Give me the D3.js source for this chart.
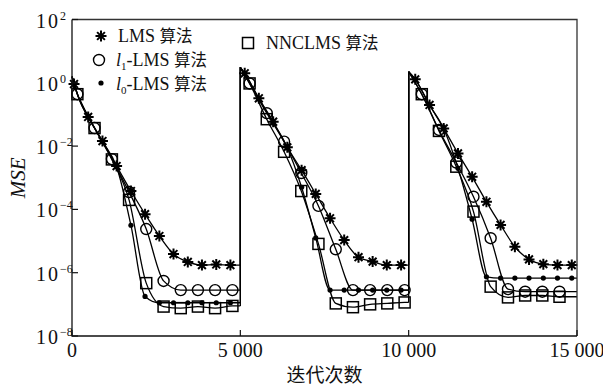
<!DOCTYPE html>
<html>
<head>
<meta charset="utf-8">
<script src="https://cdn.jsdelivr.net/npm/d3@7"></script>
<style>
  body { margin: 0; background: #fff; }
  text { font-family: 'Liberation Serif', 'DejaVu Serif', serif; fill: #111; }
  .cjk { font-family: 'Noto Sans CJK SC', sans-serif; }
</style>
</head>
<body>
<div id="chart"></div>
<script>
// all values are [iteration, log10(MSE)]

// LMS (stars)
const lmsMarks = [
  [60, -0.04], [480, -1.08], [905, -1.84], [1325, -2.63], [1750, -3.42], [2170, -4.15],
  [2595, -4.84], [3015, -5.41], [3440, -5.66], [3860, -5.76], [4285, -5.74], [4705, -5.76],
  [5130, 0.30], [5550, -0.49], [5975, -1.23], [6395, -2.04], [6820, -2.76], [7240, -3.51],
  [7665, -4.28], [8085, -4.97], [8510, -5.51], [8930, -5.65], [9350, -5.76], [9775, -5.76],
  [10195, 0.11], [10620, -0.70], [11040, -1.44], [11465, -2.23], [11885, -2.97], [12310, -3.76],
  [12730, -4.49], [13155, -5.18], [13575, -5.58], [14000, -5.73], [14420, -5.76], [14845, -5.76]
];
const lmsKnots = [[0, 0.2], [5000, -5.76], [5000, 0.49], [10000, -5.76], [10000, 0.35], [15000, -5.77]];

// l1-LMS (circles)
const l1Marks = [
  [160, -0.36], [670, -1.43], [1185, -2.41], [1695, -3.45], [2205, -4.62],
  [2720, -6.26], [3230, -6.55], [3740, -6.55], [4250, -6.55], [4765, -6.55],
  [5275, -0.02], [5785, -0.96], [6300, -1.86], [6810, -2.85], [7320, -3.89],
  [7835, -5.26], [8345, -6.55], [8855, -6.55], [9365, -6.55], [9880, -6.55],
  [10390, -0.36], [10900, -1.49], [11415, -2.52], [11925, -3.60], [12435, -4.91],
  [12950, -6.52], [13460, -6.60], [13970, -6.60], [14480, -6.60]
];
const l1Knots = [[0, 0.2], [5000, -6.55], [5000, 0.49], [10000, -6.55], [10000, 0.35], [15000, -6.60]];

// l0-LMS (dots)
const l0Marks = [
  [60, -0.04], [480, -1.05], [905, -1.85], [1325, -2.65], [1750, -4.50], [2170, -6.75],
  [2595, -6.95], [3015, -6.95], [3440, -6.95], [3860, -6.95], [4285, -6.95], [4705, -6.95],
  [5130, 0.30], [5550, -0.50], [5975, -1.25], [6395, -2.05], [6820, -3.30], [7240, -4.90],
  [7665, -6.55], [8085, -6.55], [8510, -6.55], [8930, -6.55], [9350, -6.55], [9775, -6.55],
  [10195, 0.11], [10620, -0.70], [11040, -1.45], [11465, -2.70], [11885, -4.31], [12310, -6.13],
  [12730, -6.17], [13155, -6.17], [13575, -6.17], [14000, -6.17], [14420, -6.17], [14845, -6.17]
];
const l0Knots = [[0, 0.2], [5000, -6.95], [5000, 0.49], [10000, -6.55], [10000, 0.35], [15000, -6.17]];

// NNCLMS (squares)
const nnMarks = [
  [160, -0.36], [670, -1.43], [1185, -2.42], [1695, -3.70], [2205, -6.33],
  [2720, -7.07], [3230, -7.12], [3740, -7.07], [4250, -7.12], [4765, -7.05],
  [5275, -0.02], [5785, -1.15], [6300, -2.18], [6810, -3.42], [7320, -5.09],
  [7835, -6.97], [8345, -7.09], [8855, -7.00], [9365, -6.97], [9880, -6.94],
  [10390, -0.36], [10900, -1.52], [11415, -2.65], [11925, -4.07], [12435, -6.44],
  [12950, -6.78], [13460, -6.72], [13970, -6.72], [14480, -6.76]
];
const nnKnots = [[0, 0.2], [5000, -7.05], [5000, 0.49], [10000, -6.94], [10000, 0.35], [15000, -6.76]];

const xTicks = [0, 5000, 10000, 15000];
const xTickLabels = ['0', '5 000', '10 000', '15 000'];
const yTickExps = [-8, -6, -4, -2, 0, 2];

const width = 603, height = 387;
const margin = { top: 19.5, right: 26, bottom: 51, left: 72 };

const svg = d3.select('#chart').append('svg')
  .attr('width', width)
  .attr('height', height);

const x = d3.scaleLinear().domain([0, 15000]).range([margin.left, width - margin.right]);
const y = d3.scaleLog().domain([1e-8, 1e2]).range([height - margin.bottom, margin.top]);

const px = d => x(d[0]);
const py = d => y(Math.pow(10, d[1]));

const line = d3.line().x(px).y(py).curve(d3.curveMonotoneX);

// split at the restarts (two points with the same iteration)
function drawSeries(marks, knots) {
  const pts = knots.concat(marks).sort((a, b) => a[0] - b[0]);
  const parts = [[pts[0]]];
  for (let i = 1; i < pts.length; i++) {
    if (pts[i][0] === pts[i - 1][0]) {
      svg.append('line')
        .attr('x1', px(pts[i - 1])).attr('y1', py(pts[i - 1]))
        .attr('x2', px(pts[i])).attr('y2', py(pts[i]))
        .attr('stroke', '#000').attr('stroke-width', 1.3);
      parts.push([]);
    }
    parts[parts.length - 1].push(pts[i]);
  }
  parts.forEach(p => {
    svg.append('path')
      .attr('d', line(p))
      .attr('fill', 'none')
      .attr('stroke', '#000')
      .attr('stroke-width', 1.3);
  });
}

drawSeries(lmsMarks, lmsKnots);
drawSeries(l1Marks, l1Knots);
drawSeries(l0Marks, l0Knots);
drawSeries(nnMarks, nnKnots);

// marker shapes
const starPath = 'M-5.5,0L5.5,0M0,-5.5L0,5.5M-3.9,-3.9L3.9,3.9M-3.9,3.9L3.9,-3.9';

function stars(g, data) {
  g.selectAll(null).data(data).join('path')
    .attr('transform', d => 'translate(' + px(d) + ',' + py(d) + ')')
    .attr('d', starPath)
    .attr('stroke', '#000')
    .attr('stroke-width', 2);
}
function circles(g, data) {
  g.selectAll(null).data(data).join('circle')
    .attr('cx', px).attr('cy', py).attr('r', 5.5)
    .attr('fill', 'none').attr('stroke', '#000').attr('stroke-width', 1.4);
}
function dots(g, data) {
  g.selectAll(null).data(data).join('circle')
    .attr('cx', px).attr('cy', py).attr('r', 2.6)
    .attr('fill', '#000');
}
function squares(g, data) {
  g.selectAll(null).data(data).join('rect')
    .attr('x', d => px(d) - 5.5).attr('y', d => py(d) - 5.5)
    .attr('width', 11).attr('height', 11)
    .attr('fill', 'none').attr('stroke', '#000').attr('stroke-width', 1.5);
}

const marks = svg.append('g');
circles(marks.append('g'), l1Marks);
squares(marks.append('g'), nnMarks);
dots(marks.append('g'), l0Marks);
stars(marks.append('g'), lmsMarks);

// frame
const x0 = x.range()[0], x1 = x.range()[1];
const yb = y.range()[0], yt = y.range()[1];
svg.append('path')
  .attr('d', 'M' + x0 + ',' + yt + 'H' + x1 + 'V' + yb)
  .attr('fill', 'none').attr('stroke', '#333').attr('stroke-width', 1.3);
svg.append('path')
  .attr('d', 'M' + x0 + ',' + yt + 'V' + yb + 'H' + x1)
  .attr('fill', 'none').attr('stroke', '#111').attr('stroke-width', 1.3);

// x ticks
svg.selectAll('line.xt').data(xTicks).join('line')
  .attr('class', 'xt')
  .attr('x1', d => x(d)).attr('x2', d => x(d))
  .attr('y1', yb).attr('y2', yb - 6)
  .attr('stroke', '#111').attr('stroke-width', 1.2);
svg.selectAll('text.xl').data(xTicks).join('text')
  .attr('class', 'xl')
  .attr('x', d => x(d)).attr('y', yb + 21)
  .attr('text-anchor', 'middle')
  .style('font-size', '20px')
  .text((d, i) => xTickLabels[i]);

// y ticks
svg.selectAll('line.yt').data(yTickExps).join('line')
  .attr('class', 'yt')
  .attr('x1', x0).attr('x2', x0 + 6)
  .attr('y1', d => y(Math.pow(10, d))).attr('y2', d => y(Math.pow(10, d)))
  .attr('stroke', '#111').attr('stroke-width', 1.2);
const yl = svg.selectAll('text.yl').data(yTickExps).join('text')
  .attr('class', 'yl')
  .attr('x', 36).attr('y', d => y(Math.pow(10, d)) + 8)
  .style('font-size', '20px');
yl.append('tspan').attr('letter-spacing', '2px').text('10');
yl.append('tspan')
  .attr('dy', -8)
  .style('font-size', '12px')
  .text(d => (d < 0 ? '\u2212' + (-d) : d));

// axis titles
svg.append('text')
  .attr('transform', 'translate(25,' + (yt + yb) / 2 + ') rotate(-90)')
  .attr('text-anchor', 'middle')
  .style('font-size', '21px')
  .style('font-style', 'italic')
  .text('MSE');
svg.append('text')
  .attr('class', 'cjk')
  .attr('x', (x0 + x1) / 2).attr('y', 382)
  .attr('text-anchor', 'middle')
  .style('font-size', '19px')
  .text('迭代次数');

// legend
const legend = svg.append('g').style('font-size', '18px');
function legendLabel(lx, ly, parts) {
  const t = legend.append('text').attr('x', lx).attr('y', ly + 6);
  parts.forEach(p => {
    const s = t.append('tspan').text(p.t);
    if (p.cjk) s.attr('class', 'cjk').style('font-size', '16.5px');
    if (p.it) s.style('font-style', 'italic');
    if (p.sub) s.style('font-size', '11px').attr('dy', 4);
    if (p.up) s.attr('dy', -4);
  });
}
legend.append('path').attr('transform', 'translate(101,36)').attr('d', starPath)
  .attr('stroke', '#000').attr('stroke-width', 2);
legend.append('circle').attr('cx', 99).attr('cy', 60).attr('r', 5.5)
  .attr('fill', 'none').attr('stroke', '#000').attr('stroke-width', 1.4);
legend.append('circle').attr('cx', 101).attr('cy', 83).attr('r', 2.6).attr('fill', '#000');
legend.append('rect').attr('x', 242.5).attr('y', 37.5).attr('width', 11).attr('height', 11)
  .attr('fill', 'none').attr('stroke', '#000').attr('stroke-width', 1.5);

legendLabel(118, 36, [{ t: 'LMS ' }, { t: '算法', cjk: true }]);
legendLabel(116, 60, [{ t: 'l', it: true }, { t: '1', sub: true }, { t: '-LMS ', up: true }, { t: '算法', cjk: true }]);
legendLabel(116, 84, [{ t: 'l', it: true }, { t: '0', sub: true }, { t: '-LMS ', up: true }, { t: '算法', cjk: true }]);
legendLabel(266, 43, [{ t: 'NNCLMS ' }, { t: '算法', cjk: true }]);
</script>
</body>
</html>
